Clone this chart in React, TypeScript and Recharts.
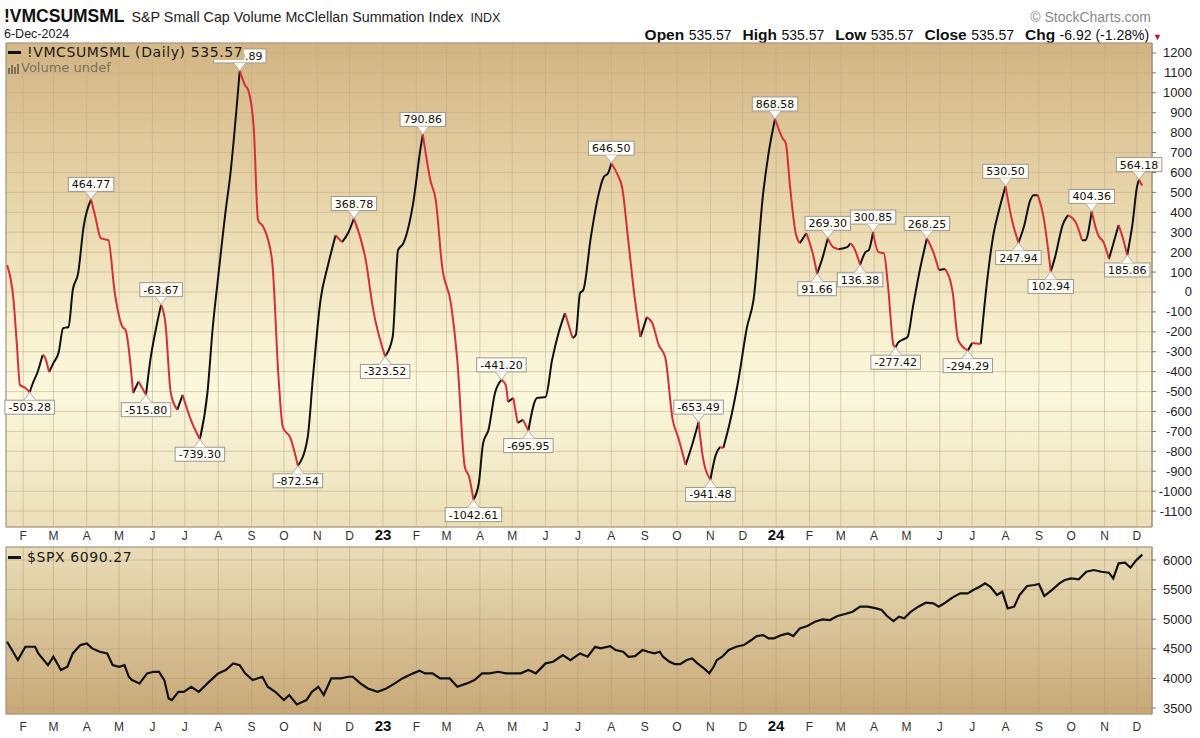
import React from "react";
import {
  CartesianGrid,
  Line,
  LineChart,
  ReferenceArea,
  ReferenceDot,
  XAxis,
  YAxis,
} from "recharts";

// x values are days counted from 1-Jan-2022

// McClellan summation index
const mcDays = [
  16, 22, 25, 28, 33, 37, 40, 44, 49, 51, 55, 59, 64, 68, 73, 77, 82, 87, 94, 98,
  103, 110, 116, 123, 126, 133, 138, 145, 149, 154, 159, 163, 168, 174, 179, 186,
  195, 202, 207, 212, 219, 223, 232, 237, 240, 245, 249, 254, 262, 268, 272, 279,
  286, 295, 300, 307, 314, 321, 327, 333, 338, 349, 356, 367, 374, 379, 384, 393,
  400, 402, 409, 414, 420, 428, 434, 441, 445, 449, 454, 458, 463, 469, 475, 479,
  481, 486, 490, 495, 500, 508, 516, 522, 528, 534, 541, 544, 548, 551, 558, 564,
  570, 574, 577, 583, 587, 593, 599, 604, 610, 615, 621, 627, 634, 639, 646, 652,
  658, 662, 669, 674, 678, 681, 687, 695, 703, 709, 718, 723, 729, 736, 739, 743,
  748, 752, 758, 764, 768, 773, 778, 783, 788, 796, 799, 802, 808, 813, 816, 820,
  825, 830, 834, 839, 841, 843, 847, 852, 857, 864, 870, 876, 881, 887, 894, 899,
  908, 912, 920, 926, 932, 937, 943, 949, 955, 960, 966, 969, 973, 978, 985, 989,
  996, 1001, 1008, 1014, 1017, 1023, 1029, 1034, 1039, 1048, 1052, 1056, 1061,
  1065, 1067, 1069, 1070,
];
const mcValues = [
  135, -41, -256, -467, -482, -503.28, -457, -407, -316, -326, -402, -357, -301,
  -182, -176, 10, 95, 326, 464.77, 376, 270, 260, -5, -175, -191, -507, -450,
  -515.8, -342, -191, -63.67, -156, -507, -592, -517, -633, -739.3, -507, -176,
  75, 411, 577, 1109.89, 1038, 1012, 826, 361, 326, 160, -427, -678, -733,
  -872.54, -733, -427, -41, 135, 285, 250, 300, 368.78, 160, -91, -323.52, -226,
  210, 245, 445, 726, 790.86, 561, 461, 125, -56, -342, -879, -929, -1042.61,
  -959, -758, -692, -507, -441.2, -467, -552, -532, -657, -642, -695.95, -532,
  -527, -342, -206, -106, -231, -216, -5, 10, 275, 461, 577, 596, 646.5, 587,
  526, 245, -41, -226, -126, -156, -266, -326, -642, -728, -869, -768, -653.49,
  -829, -941.48, -818, -778, -783, -657, -442, -176, -41, 496, 696, 868.58, 772,
  747, 526, 300, 245, 295, 195, 91.66, 170, 269.3, 225, 215, 225, 245, 225,
  136.38, 200, 210, 300.85, 200, 195, 25, -266, -277.42, -256, -241, -226, -76,
  125, 268.25, 200, 110, 115, -5, -241, -294.29, -256, -261, 60, 295, 411, 530.5,
  361, 247.94, 326, 461, 486, 486, 386, 102.94, 175, 336, 386, 351, 260, 260,
  404.36, 285, 250, 165, 336, 270, 185.86, 346, 526, 564.18, 542.49, 535.57,
];

// S&P 500 in the lower panel
const spxDays = [
  16, 26, 33, 42, 45, 54, 59, 66, 72, 77, 84, 90, 95, 102, 109, 114, 120, 125,
  129, 132, 139, 146, 152, 157, 162, 166, 169, 175, 180, 187, 194, 202, 207, 212,
  219, 226, 232, 237, 244, 253, 258, 265, 273, 278, 285, 294, 299, 305, 310, 317,
  326, 333, 337, 344, 351, 360, 368, 376, 383, 393, 399, 404, 411, 418, 427, 434,
  443, 450, 457, 464, 472, 479, 486, 493, 500, 507, 516, 523, 532, 539, 548, 555,
  562, 567, 576, 581, 588, 593, 599, 606, 611, 617, 622, 625, 631, 636, 641, 647,
  652, 657, 663, 668, 672, 675, 680, 686, 693, 700, 707, 712, 718, 723, 728, 735,
  741, 746, 752, 759, 766, 773, 780, 787, 794, 801, 808, 815, 823, 828, 833, 839,
  844, 849, 855, 862, 869, 876, 881, 887, 894, 901, 908, 913, 919, 924, 929, 935,
  940, 945, 951, 956, 963, 970, 974, 979, 986, 993, 998, 1004, 1011, 1018, 1025,
  1032, 1039, 1043, 1048, 1054, 1059, 1064, 1067, 1070,
];
const spxValues = [
  4620, 4311, 4536, 4536, 4423, 4226, 4367, 4142, 4198, 4423, 4564, 4592, 4508,
  4451, 4423, 4226, 4198, 4226, 4029, 3973, 3917, 4086, 4113, 4113, 3973, 3663,
  3635, 3775, 3775, 3860, 3775, 3917, 4001, 4086, 4142, 4255, 4226, 4086, 3973,
  4029, 3860, 3775, 3635, 3720, 3562, 3635, 3775, 3860, 3720, 4001, 4001, 4029,
  4029, 3917, 3832, 3775, 3832, 3917, 4001, 4086, 4130, 4086, 4086, 4001, 4001,
  3860, 3917, 3973, 4086, 4086, 4113, 4086, 4086, 4086, 4142, 4086, 4255, 4282,
  4395, 4311, 4423, 4367, 4536, 4508, 4547, 4480, 4451, 4367, 4378, 4480, 4451,
  4423, 4451, 4367, 4282, 4243, 4243, 4311, 4339, 4255, 4170, 4086, 4198, 4311,
  4367, 4480, 4536, 4564, 4649, 4716, 4733, 4677, 4677, 4733, 4761, 4716, 4846,
  4885, 4958, 4998, 4986, 5054, 5088, 5127, 5212, 5212, 5183, 5155, 5054, 4970,
  5043, 5015, 5127, 5212, 5279, 5268, 5212, 5279, 5369, 5437, 5437, 5493, 5549,
  5606, 5549, 5409, 5465, 5183, 5212, 5409, 5561, 5578, 5595, 5392, 5493, 5606,
  5662, 5690, 5673, 5802, 5831, 5802, 5786, 5690, 5944, 5955, 5870, 5990, 6040,
  6090.27,
];

// annotated turning points
const markDays = [
  37, 94, 145, 159, 195, 232, 286, 338, 367, 402, 449, 475, 500, 577, 658, 669,
  729, 768, 778, 808, 820, 841, 870, 908, 943, 955, 985, 1023, 1056, 1067,
];
const markValues = [
  -503.28, 464.77, -515.8, -63.67, -739.3, 1109.89, -872.54, 368.78, -323.52,
  790.86, -1042.61, -441.2, -695.95, 646.5, -653.49, -941.48, 868.58, 91.66,
  269.3, 136.38, 300.85, -277.42, 268.25, -294.29, 530.5, 247.94, 102.94, 404.36,
  185.86, 564.18,
];

const monthTicks = [
  31, 59, 90, 120, 151, 181, 212, 243, 273, 304, 334, 365, 396, 424, 455, 485,
  516, 546, 577, 608, 638, 669, 699, 730, 761, 790, 821, 851, 882, 912, 943, 974,
  1004, 1035, 1065,
];
const monthNames = [
  "F", "M", "A", "M", "J", "J", "A", "S", "O", "N", "D", "23",
  "F", "M", "A", "M", "J", "J", "A", "S", "O", "N", "D", "24",
  "F", "M", "A", "M", "J", "J", "A", "S", "O", "N", "D",
];

const mcTicks = [
  -1100, -1000, -900, -800, -700, -600, -500, -400, -300, -200, -100, 0, 100,
  200, 300, 400, 500, 600, 700, 800, 900, 1000, 1100, 1200,
];
const spxTicks = [3500, 4000, 4500, 5000, 5500, 6000];

const symbol = "!VMCSUMSML";
const symbolName = "S&P Small Cap Volume McClellan Summation Index";
const exchange = "INDX";
const chartDate = "6-Dec-2024";
const quoteNames = ["Open", "High", "Low", "Close", "Chg"];
const quoteValues = ["535.57", "535.57", "535.57", "535.57", "-6.92 (-1.28%)"];
const mcLast = "535.57";
const spxLast = "6090.27";

const X_DOMAIN = [15, 1079];
const MC_DOMAIN = [-1180, 1250];
const SPX_DOMAIN = [3400, 6220];

const RISE = "#111111";
const FALL = "#d42f3a";
const GRID = "#c3aa86";
const ARIAL = "'Liberation Sans', Arial, sans-serif";
const TAHOMA = "'DejaVu Sans', Verdana, sans-serif";

// split the line into rising (black) and falling (red) runs
function splitRuns(days: number[], vals: number[]) {
  const rows: { day: number; up?: number; dn?: number }[] = [];
  for (let i = 0; i < vals.length; i++) {
    const inc = i > 0 ? (vals[i] >= vals[i - 1] ? "up" : "dn") : null;
    const out = i < vals.length - 1 ? (vals[i + 1] >= vals[i] ? "up" : "dn") : null;
    if (inc && out && inc !== out) {
      rows.push({ day: days[i], [inc]: vals[i] });
      rows.push({ day: days[i], [out]: vals[i] });
    } else {
      const k = (inc || out) as string;
      rows.push({ day: days[i], [k]: vals[i] });
    }
  }
  return rows;
}

const mcRows = splitRuns(mcDays, mcValues);
const spxRows = spxDays.map((d, i) => ({ day: d, spx: spxValues[i] }));

function isPeak(day: number) {
  const i = mcDays.indexOf(day);
  const prev = i > 0 ? mcValues[i - 1] : -Infinity;
  const next = i < mcValues.length - 1 ? mcValues[i + 1] : -Infinity;
  return mcValues[i] >= prev && mcValues[i] >= next;
}

function textWidth(s: string) {
  let w = 0;
  for (const c of s) w += c === "." ? 3.5 : c === "-" ? 4 : 7;
  return w;
}

const MarkLabel = ({ cx, cy, value, above }: any) => {
  if (cx == null || cy == null) return null;
  const text = value.toFixed(2);
  const w = textWidth(text) + 7;
  const h = 14;
  const gap = 8;
  const by = above ? cy - gap - h : cy + gap;
  const edge = above ? cy - gap : cy + gap;
  return (
    <g>
      <rect x={cx - w / 2} y={by} width={w} height={h} fill="#fffdf5" stroke="#9c9890" strokeWidth={1} />
      <path d={`M${cx - 6},${edge} L${cx},${cy} L${cx + 6},${edge} Z`} fill="#fffdf5" stroke="none" />
      <path d={`M${cx - 6},${edge} L${cx},${cy} L${cx + 6},${edge}`} fill="none" stroke="#b0aca4" strokeWidth={1} />
      <text x={cx} y={by + 11} textAnchor="middle" fontFamily={TAHOMA} fontSize={11} fill="#111">
        {text}
      </text>
    </g>
  );
};

const MonthTick = ({ x, y, payload, dy }: any) => {
  const lab = monthNames[monthTicks.indexOf(payload.value)];
  const isYear = /\d/.test(lab);
  return (
    <text
      x={x}
      y={y + dy}
      textAnchor="middle"
      fontFamily={ARIAL}
      fontSize={isYear ? 15 : 12}
      fontWeight={isYear ? 700 : 400}
      fill={isYear ? "#111" : "#333"}
    >
      {lab}
    </text>
  );
};

const ValueTick = ({ x, y, payload }: any) => (
  <text x={x + 34} y={y + 4.5} textAnchor="end" fontFamily={ARIAL} fontSize={13} fill="#222">
    {payload.value}
  </text>
);

const legendStyle: React.CSSProperties = {
  position: "absolute",
  fontFamily: TAHOMA,
  fontSize: 14,
  letterSpacing: 0.6,
  color: "#1a1a1a",
  whiteSpace: "nowrap",
  lineHeight: "16px",
  display: "flex",
  alignItems: "center",
};

export default function App() {
  return (
    <div
      style={{
        position: "absolute",
        left: 0,
        top: 0,
        width: 1200,
        height: 738,
        background: "#fff",
        fontFamily: ARIAL,
        overflow: "hidden",
      }}
    >
      {/* header */}
      <div style={{ position: "absolute", left: 4, top: 5, whiteSpace: "nowrap", lineHeight: "22px" }}>
        <span style={{ fontSize: 17.5, fontWeight: 700, color: "#111" }}>{symbol}</span>
        <span style={{ fontSize: 14.3, color: "#222", marginLeft: 7 }}>{symbolName}</span>
        <span style={{ fontSize: 12.5, color: "#222", marginLeft: 7 }}>{exchange}</span>
      </div>
      <div style={{ position: "absolute", left: 4, top: 27, fontSize: 12.5, color: "#222", lineHeight: "14px" }}>
        {chartDate}
      </div>
      <div style={{ position: "absolute", right: 49, top: 9, fontSize: 14, color: "#8a8a8a", lineHeight: "16px" }}>
        © StockCharts.com
      </div>
      <div
        style={{
          position: "absolute",
          right: 38,
          top: 26,
          whiteSpace: "nowrap",
          lineHeight: "17px",
          color: "#111",
        }}
      >
        {quoteNames.map((n, i) => (
          <span key={n} style={{ marginLeft: i ? 11 : 0 }}>
            <span style={{ fontSize: 15.5, fontWeight: 700 }}>{n}</span>{" "}
            <span style={{ fontSize: 14 }}>{quoteValues[i]}</span>
          </span>
        ))}
        <span style={{ fontSize: 9, color: "#b3122b", marginLeft: 4 }}>▼</span>
      </div>

      {/* upper panel */}
      <div style={{ position: "absolute", left: 0, top: 0 }}>
        <LineChart width={1200} height={545} data={mcRows} margin={{ top: 43, right: 0, bottom: 0, left: 6 }}>
          <defs>
            <linearGradient id="mcBg" x1="0" y1="0" x2="0" y2="1">
              <stop offset="0" stopColor="#d3b483" />
              <stop offset="0.35" stopColor="#e9d8ad" />
              <stop offset="0.62" stopColor="#f8f2d3" />
              <stop offset="0.72" stopColor="#fbf8de" />
              <stop offset="1" stopColor="#ebdfb6" />
            </linearGradient>
          </defs>
          <CartesianGrid fill="url(#mcBg)" fillOpacity={1} stroke={GRID} strokeOpacity={0.55} />
          <XAxis
            type="number"
            dataKey="day"
            domain={X_DOMAIN}
            ticks={monthTicks}
            interval={0}
            allowDataOverflow
            axisLine={false}
            tickLine={false}
            tickSize={0}
            tickMargin={0}
            height={18}
            tick={(p: any) => <MonthTick {...p} dy={13} />}
          />
          <YAxis
            orientation="right"
            domain={MC_DOMAIN}
            ticks={mcTicks}
            interval={0}
            allowDataOverflow
            width={48}
            axisLine={{ stroke: "#a4927c" }}
            tickLine={{ stroke: "#777" }}
            tickSize={4}
            tickMargin={2}
            tick={(p: any) => <ValueTick {...p} />}
          />
          <ReferenceArea
            x1={X_DOMAIN[0]}
            x2={X_DOMAIN[1]}
            y1={MC_DOMAIN[0]}
            y2={MC_DOMAIN[1]}
            fill="none"
            stroke="#a4927c"
            strokeWidth={1}
          />
          <Line type="monotone" dataKey="up" stroke={RISE} strokeWidth={2} dot={false} isAnimationActive={false} />
          <Line type="monotone" dataKey="dn" stroke={FALL} strokeWidth={2} dot={false} isAnimationActive={false} />
          {markDays.map((d, i) => (
            <ReferenceDot
              key={d}
              x={d}
              y={markValues[i]}
              r={0}
              ifOverflow="visible"
              shape={(p: any) => <MarkLabel cx={p.cx} cy={p.cy} value={markValues[i]} above={isPeak(d)} />}
            />
          ))}
        </LineChart>
      </div>
      <div style={{ ...legendStyle, left: 8, top: 44, background: "#d5b888", paddingRight: 1 }}>
        <span style={{ display: "inline-block", width: 13, height: 3, background: "#111", marginRight: 6 }} />
        {symbol} (Daily) {mcLast}
      </div>
      <div style={{ ...legendStyle, left: 8, top: 60, fontSize: 13, letterSpacing: 0, color: "#77705f" }}>
        <svg width={12} height={11} style={{ marginRight: 1 }}>
          <rect x={0} y={5} width={2} height={6} fill="#77705f" />
          <rect x={3} y={2} width={2} height={9} fill="#77705f" />
          <rect x={6} y={4} width={2} height={7} fill="#77705f" />
          <rect x={9} y={1} width={2} height={10} fill="#77705f" />
        </svg>
        Volume undef
      </div>

      {/* lower panel */}
      <div style={{ position: "absolute", left: 0, top: 545 }}>
        <LineChart width={1200} height={193} data={spxRows} margin={{ top: 2, right: 0, bottom: 0, left: 6 }}>
          <defs>
            <linearGradient id="spxBg" x1="0" y1="0" x2="0" y2="1">
              <stop offset="0" stopColor="#e9ddb8" />
              <stop offset="1" stopColor="#c8a877" />
            </linearGradient>
          </defs>
          <CartesianGrid fill="url(#spxBg)" fillOpacity={1} stroke="#b59a74" strokeOpacity={0.5} />
          <XAxis
            type="number"
            dataKey="day"
            domain={X_DOMAIN}
            ticks={monthTicks}
            interval={0}
            allowDataOverflow
            axisLine={false}
            tickLine={false}
            tickSize={0}
            tickMargin={0}
            height={24}
            tick={(p: any) => <MonthTick {...p} dy={17} />}
          />
          <YAxis
            orientation="right"
            domain={SPX_DOMAIN}
            ticks={spxTicks}
            interval={0}
            allowDataOverflow
            width={48}
            axisLine={{ stroke: "#a4927c" }}
            tickLine={{ stroke: "#777" }}
            tickSize={4}
            tickMargin={2}
            tick={(p: any) => <ValueTick {...p} />}
          />
          <ReferenceArea
            x1={X_DOMAIN[0]}
            x2={X_DOMAIN[1]}
            y1={SPX_DOMAIN[0]}
            y2={SPX_DOMAIN[1]}
            fill="none"
            stroke="#a4927c"
            strokeWidth={1}
          />
          <Line type="linear" dataKey="spx" stroke="#111" strokeWidth={2.2} dot={false} isAnimationActive={false} />
        </LineChart>
      </div>
      <div style={{ ...legendStyle, left: 8, top: 549 }}>
        <span style={{ display: "inline-block", width: 13, height: 3, background: "#111", marginRight: 6 }} />
        $SPX {spxLast}
      </div>
    </div>
  );
}
